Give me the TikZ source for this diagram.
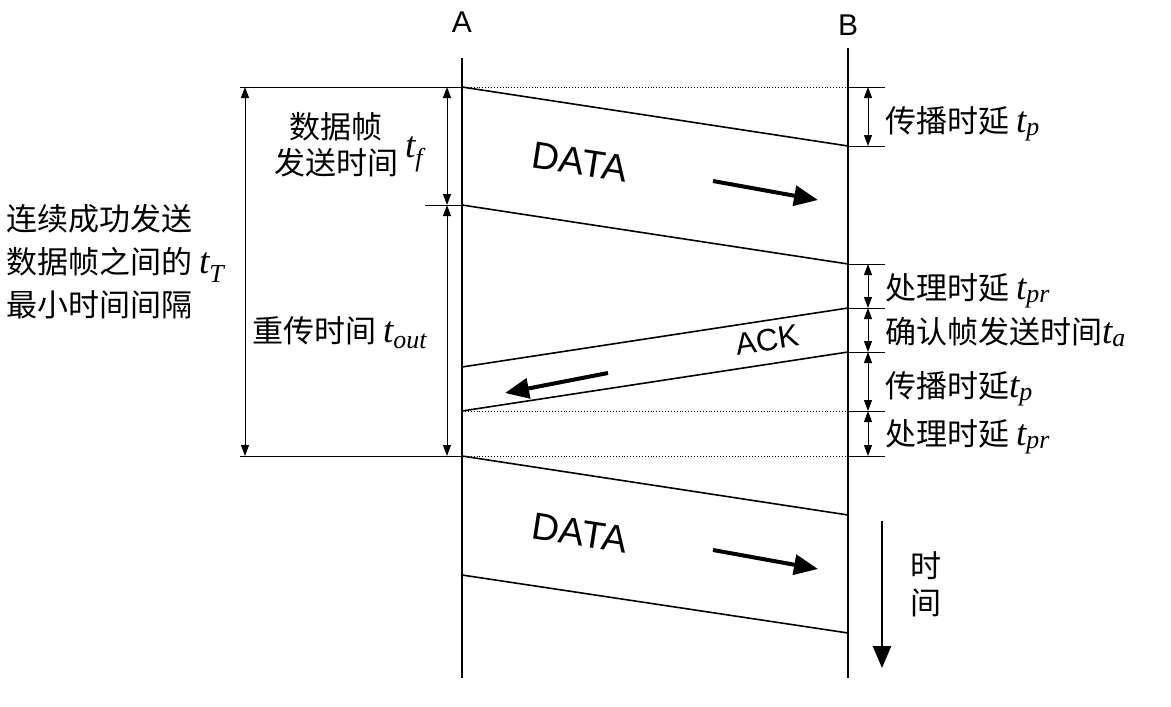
\documentclass[tikz,border=0pt]{standalone}
\usepackage{fontspec}
\setmainfont{Liberation Serif}
\newfontfamily\cjk{Noto Sans CJK SC}
\newfontfamily\arial{Liberation Sans}
\newfontfamily\tms{Liberation Serif}
\usetikzlibrary{arrows.meta}

% italic time symbol with subscript
\newcommand{\tsym}[1]{{\tms\itshape\fontsize{37}{42}\selectfont t\textsubscript{#1}}}

\tikzset{
  axis/.style={line width=2.6pt},
  sig/.style={line width=1.6pt},
  thin/.style={line width=1pt},
  dotline/.style={line width=0.9pt,dotted},
  dim/.style={line width=1pt,{Triangle[length=11pt,width=8pt]}-{Triangle[length=11pt,width=8pt]}},
  flow/.style={line width=4pt,-{Triangle[length=24pt,width=20pt]}},
  lbl/.style={font=\cjk\fontsize{31}{43}\selectfont,inner sep=0pt},
  latin/.style={font=\arial\fontsize{30}{36}\selectfont,inner sep=0pt}
}

\begin{document}
\begin{tikzpicture}[x=1pt,y=-1pt]
\useasboundingbox (0,0) rectangle (1171,707);
% stations
\node[latin] (A) at (462,22) {A};
\node[latin] (B) at (848,25) {B};
\coordinate (Atop) at (462,58);
\coordinate (Abot) at (462,678);
\coordinate (Btop) at (848,48);
\coordinate (Bbot) at (848,678);
\draw[axis] (Atop) -- (Abot);
\draw[axis] (Btop) -- (Bbot);
% frame edges
\coordinate (a1) at (462,87);  \coordinate (b1) at (848,146);
\coordinate (a2) at (462,205); \coordinate (b2) at (848,264);
\coordinate (b3) at (848,308); \coordinate (a3) at (462,367);
\coordinate (b4) at (848,352); \coordinate (a4) at (462,411);
\coordinate (a5) at (462,456); \coordinate (b5) at (848,515);
\coordinate (a6) at (462,575); \coordinate (b6) at (848,633);
\draw[sig] (a1) -- (b1);
\draw[sig] (a2) -- (b2);
\draw[sig] (b3) -- (a3);
\draw[sig] (b4) -- (a4);
\draw[sig] (a5) -- (b5);
\draw[sig] (a6) -- (b6);
% reference lines
\coordinate (l1) at (240,87);  \coordinate (r1) at (848,87);
\coordinate (l2) at (425,205);
\coordinate (r4) at (848,411);
\coordinate (l5) at (240,456); \coordinate (r5) at (848,456);
\draw[thin] (l1) -- (a1);
\draw[dotline] (a1) -- (r1);
\draw[thin] (l2) -- (a2);
\draw[dotline] (a4) -- (r4);
\draw[thin] (l5) -- (a5);
\draw[dotline] (a5) -- (r5);
\foreach \y in {87,146,264,308,352,411,456}
  \draw[thin] (848,\y) -- (885,\y);
% dimensions
\draw[dim] (245,87) -- (245,456);
\draw[dim] (447,87) -- (447,205);
\draw[dim] (447,205) -- (447,456);
\draw[dim] (868,87) -- (868,146);
\draw[dim] (868,264) -- (868,308);
\draw[dim] (868,308) -- (868,352);
\draw[dim] (868,352) -- (868,411);
\draw[dim] (868,411) -- (868,456);
% labels
\node[lbl,anchor=west,align=left] (tT) at (6,262) {连续成功发送\\数据帧之间的 \tsym{T}\\最小时间间隔};
\node[lbl,align=center,font=\cjk\fontsize{31}{36}\selectfont] (tf) at (336,145) {数据帧\\发送时间};
\node[lbl,anchor=base west] (tfs) at (405,157) {\tsym{f}};
\node[lbl,anchor=base west] (tout) at (252,342) {重传时间 \tsym{out}};
\node[lbl,anchor=base west] (tp1) at (885,132) {传播时延 \tsym{p}};
\node[lbl,anchor=base west] (tpr1) at (885,299) {处理时延 \tsym{pr}};
\node[lbl,anchor=base west] (ta) at (885,343) {确认帧发送时间\tsym{a}};
\node[lbl,anchor=base west] (tp2) at (885,397) {传播时延\tsym{p}};
\node[lbl,anchor=base west] (tpr2) at (885,445) {处理时延 \tsym{pr}};
% frames
\node[font=\arial\fontsize{38}{40}\selectfont,rotate=-8.7] (data1) at (580,162) {DATA};
\node[font=\arial\fontsize{38}{40}\selectfont,rotate=-8.7] (data2) at (580,533) {DATA};
\node[font=\arial\fontsize{31}{36}\selectfont,rotate=8.7] (ack) at (767,340) {ACK};
\coordinate (d1s) at (713,181); \coordinate (d1e) at (818,200);
\coordinate (d2s) at (713,550); \coordinate (d2e) at (818,569);
\coordinate (aks) at (608,373); \coordinate (ake) at (505,393);
\draw[flow] (d1s) -- (d1e);
\draw[flow] (d2s) -- (d2e);
\draw[flow] (aks) -- (ake);
% time axis
\coordinate (ts) at (882,521); \coordinate (te) at (882,668);
\draw[line width=2.6pt,-{Triangle[length=22pt,width=18pt]}] (ts) -- (te);
\node[lbl,align=center,font=\cjk\fontsize{31}{37}\selectfont] (time) at (926,584) {时\\间};
\end{tikzpicture}
\end{document}
